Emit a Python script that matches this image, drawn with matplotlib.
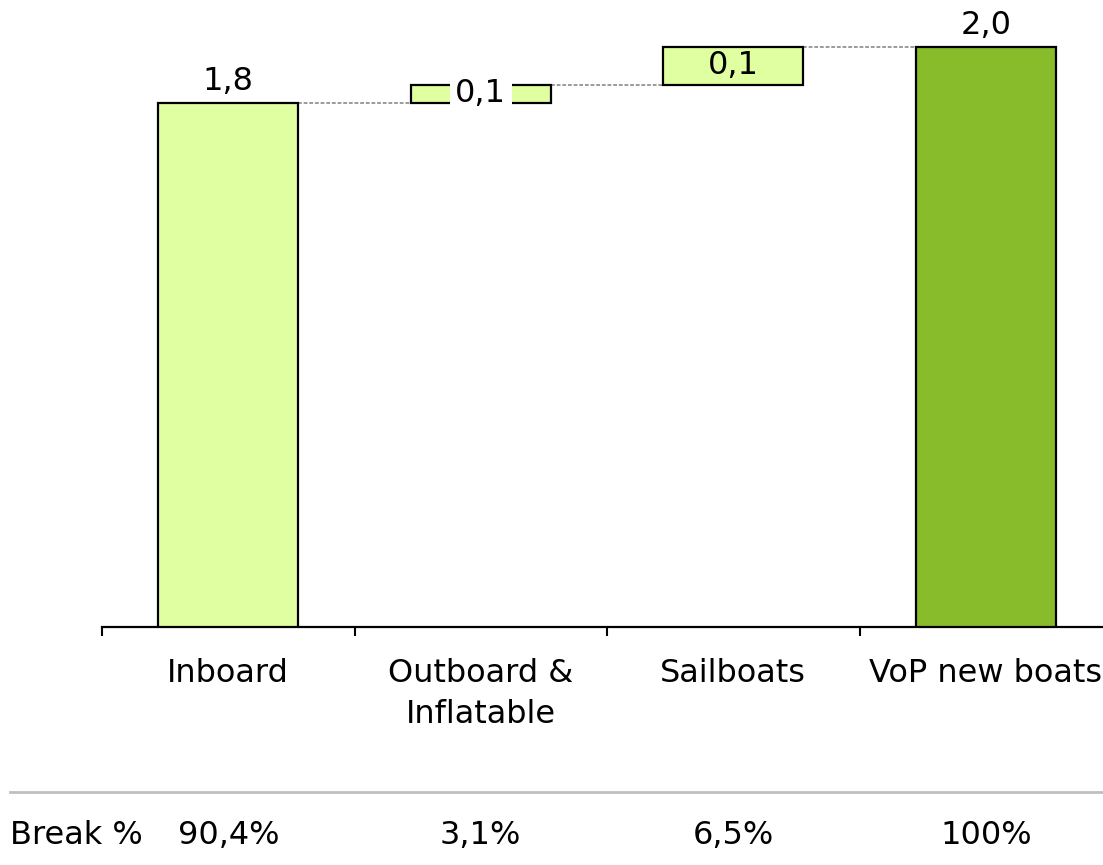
import matplotlib
matplotlib.use("Agg")
import matplotlib.pyplot as plt
import matplotlib.transforms as mtransforms

plt.rcParams['font.family'] = ['DejaVu Sans']

# data
categories = ['Inboard', 'Outboard &\nInflatable', 'Sailboats', 'VoP new boats']
steps = [1.808, 0.062, 0.13]          # contributions
total = 2.0
break_pct = ['90,4%', '3,1%', '6,5%', '100%']

light_green = '#dfffa0'
dark_green = '#88bc2a'

W, H = 1103, 865
fig = plt.figure(figsize=(W / 100, H / 100), dpi=100)
ax = fig.add_axes([102 / W, 1 - 627 / H, (W - 102) / W, 627 / H])

# waterfall bars
bottoms = []
acc = 0
for v in steps:
    bottoms.append(acc)
    acc += v
heights = steps + [total]
bottoms = bottoms + [0]
colors = [light_green] * len(steps) + [dark_green]
xs = list(range(len(categories)))
bw = 0.555
ax.bar(xs, heights, bottom=bottoms, width=bw, color=colors,
       edgecolor='black', linewidth=1.6, zorder=3)

# connector lines
tops = [b + h for b, h in zip(bottoms, heights)]
for i in range(len(xs) - 1):
    ax.plot([xs[i] + bw / 2, xs[i + 1] - bw / 2], [tops[i], tops[i]],
            color='#808080', linestyle=(0, (2.5, 1.2)), linewidth=1.1, zorder=2)

def fmt(v):
    return f"{v:.1f}".replace('.', ',')

fs = 23
# value labels
ax.text(xs[0], tops[0] + 0.02, fmt(heights[0]), ha='center', va='bottom', fontsize=fs)
ax.text(xs[1], bottoms[1] + heights[1] / 2, fmt(heights[1]), ha='center', va='center',
        fontsize=fs, zorder=4,
        bbox=dict(facecolor='white', edgecolor='none', pad=4))
ax.text(xs[2], bottoms[2] + heights[2] / 2, fmt(heights[2]), ha='center', va='center',
        fontsize=fs, zorder=4)
ax.text(xs[3], tops[3] + 0.02, fmt(heights[3]), ha='center', va='bottom', fontsize=fs)

ax.set_xlim(-0.5, -0.5 + (W - 102) / 252.5)
ax.set_ylim(0, 627 / 290)
for s in ['left', 'right', 'top']:
    ax.spines[s].set_visible(False)
ax.spines['bottom'].set_linewidth(1.6)
ax.set_yticks([])
ax.set_xticks([-0.5, 0.5, 1.5, 2.5])
ax.set_xticklabels([])
ax.tick_params(axis='x', which='major', direction='out', length=6.5, width=1.5)
ax.set_xticks(xs, minor=True)
ax.set_xticklabels(categories, minor=True, fontsize=fs, linespacing=1.45)
ax.tick_params(axis='x', which='minor', length=0, pad=22)

# break % row
fig.add_artist(plt.Line2D([10 / W, 1], [1 - 792 / H] * 2, color='#c0c0c0', linewidth=2))
fig.text(10 / W, 1 - 836 / H, 'Break %', ha='left', va='center', fontsize=fs)
trans = mtransforms.blended_transform_factory(ax.transData, fig.transFigure)
for x, p in zip(xs, break_pct):
    ax.text(x, 1 - 836 / H, p, transform=trans, ha='center', va='center',
            fontsize=fs, clip_on=False)

fig.savefig('out.png', dpi=100)
